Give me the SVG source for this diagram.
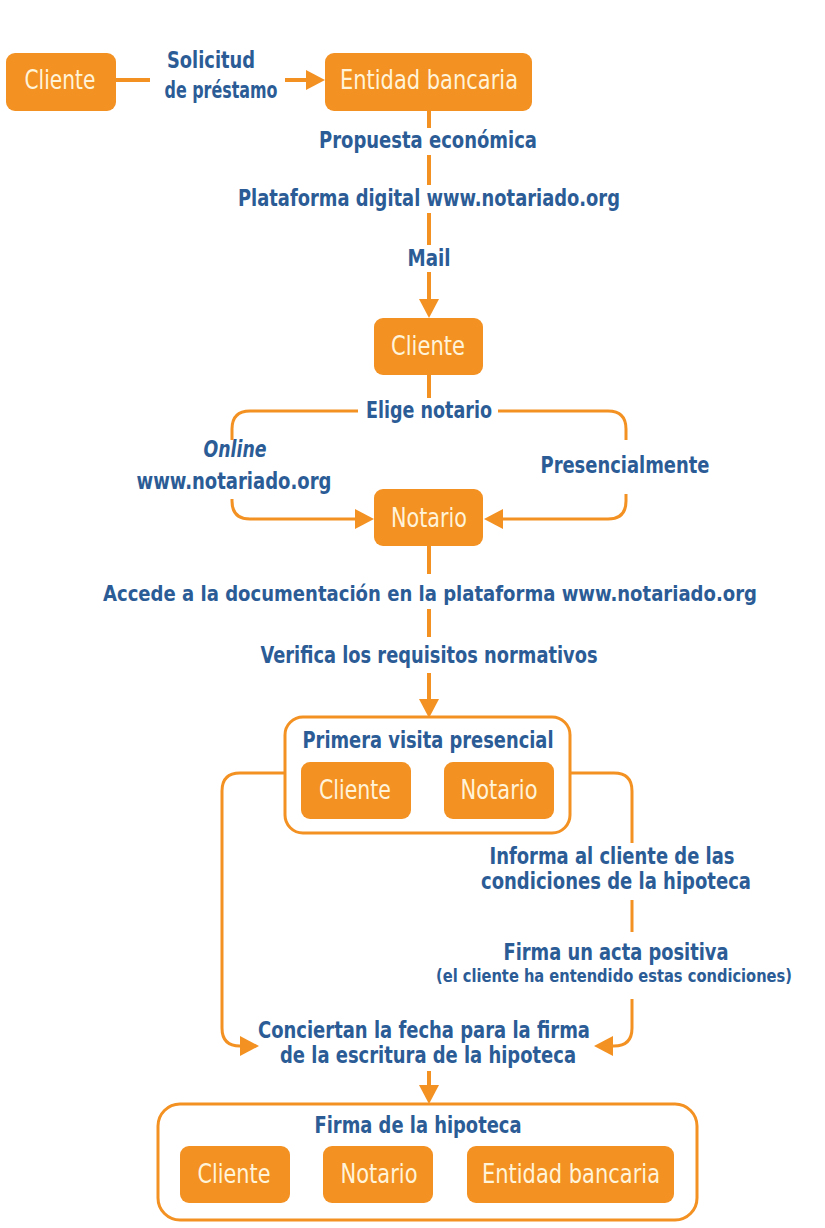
<svg xmlns="http://www.w3.org/2000/svg" width="825" height="1228" viewBox="0 0 825 1228">
<defs>
<style>
.box{fill:#F39122}
.frame{fill:#fff;stroke:#F39122;stroke-width:3}
.bt{font-family:"Liberation Sans Narrow","DejaVu Sans Condensed","Liberation Sans",sans-serif;font-stretch:condensed;font-size:26px;fill:#FFF4DA;text-anchor:middle}
.lb{font-family:"Liberation Sans Narrow","DejaVu Sans Condensed","Liberation Sans",sans-serif;font-stretch:condensed;font-weight:bold;font-size:23px;fill:#2B5C96;text-anchor:middle}
.sm{font-size:17px}
.it{font-style:italic}
.ln{fill:none;stroke:#F39122;stroke-width:4}
.br{fill:none;stroke:#F39122;stroke-width:3}
</style>
<marker id="ah" viewBox="0 0 20 20" refX="0" refY="10" markerWidth="20" markerHeight="20" markerUnits="userSpaceOnUse" orient="auto">
<path d="M0,0 L19,10 L0,20 z" fill="#F39122"/>
</marker>
</defs>
<rect width="825" height="1228" fill="#fff"/>

<g id="connectors">
<path class="ln" d="M116,80 H150"/>
<path class="ln" d="M285,80 H306" marker-end="url(#ah)"/>
<path class="ln" d="M429,111 V128"/>
<path class="ln" d="M429,155 V185"/>
<path class="ln" d="M429,213 V245"/>
<path class="ln" d="M429,272 V299" marker-end="url(#ah)"/>
<path class="ln" d="M429,375 V398"/>
<path class="br" d="M358,411 H250 Q232,411 232,429 V440"/>
<path class="br" d="M498,411 H608 Q626,411 626,429 V440"/>
<path class="br" d="M232,499 V501 Q232,519 250,519 H355" marker-end="url(#ah)"/>
<path class="br" d="M626,494 V501 Q626,519 608,519 H503" marker-end="url(#ah)"/>
<path class="ln" d="M429,546 V574"/>
<path class="ln" d="M429,609 V637"/>
<path class="ln" d="M429,673 V699" marker-end="url(#ah)"/>
<path class="br" d="M285,773 H240 Q222,773 222,791 V1028 Q222,1046 240,1046" marker-end="url(#ah)"/>
<path class="br" d="M570,773 H614 Q632,773 632,791 V843"/>
<path class="br" d="M632,900 V932"/>
<path class="br" d="M632,999 V1028 Q632,1046 614,1046 H613" marker-end="url(#ah)"/>
<path class="ln" d="M429,1071 V1085" marker-end="url(#ah)"/>
</g>

<g id="labels">
<text class="lb" x="211" y="68" textLength="88" lengthAdjust="spacingAndGlyphs">Solicitud</text>
<text class="lb" x="221" y="98" textLength="113" lengthAdjust="spacingAndGlyphs">de préstamo</text>
<text class="lb" x="428" y="148" textLength="218" lengthAdjust="spacingAndGlyphs">Propuesta económica</text>
<text class="lb" x="429" y="206" textLength="382" lengthAdjust="spacingAndGlyphs">Plataforma digital www.notariado.org</text>
<text class="lb" x="429" y="266" textLength="43" lengthAdjust="spacingAndGlyphs">Mail</text>
<text class="lb" x="429" y="418" textLength="126" lengthAdjust="spacingAndGlyphs">Elige notario</text>
<text class="lb it" x="235" y="457" textLength="63" lengthAdjust="spacingAndGlyphs">Online</text>
<text class="lb" x="234" y="489" textLength="195" lengthAdjust="spacingAndGlyphs">www.notariado.org</text>
<text class="lb" x="625" y="473" textLength="169" lengthAdjust="spacingAndGlyphs">Presencialmente</text>
<text class="lb" x="430" y="601" style="font-size:21px" textLength="654" lengthAdjust="spacingAndGlyphs">Accede a la documentación en la plataforma www.notariado.org</text>
<text class="lb" x="429" y="663" textLength="337" lengthAdjust="spacingAndGlyphs">Verifica los requisitos normativos</text>
<text class="lb" x="612" y="864" textLength="245" lengthAdjust="spacingAndGlyphs">Informa al cliente de las</text>
<text class="lb" x="616" y="889" textLength="270" lengthAdjust="spacingAndGlyphs">condiciones de la hipoteca</text>
<text class="lb" x="616" y="960" textLength="225" lengthAdjust="spacingAndGlyphs">Firma un acta positiva</text>
<text class="lb sm" x="614" y="982" textLength="356" lengthAdjust="spacingAndGlyphs">(el cliente ha entendido estas condiciones)</text>
<text class="lb" x="424" y="1038" textLength="332" lengthAdjust="spacingAndGlyphs">Conciertan la fecha para la firma</text>
<text class="lb" x="428" y="1063" textLength="296" lengthAdjust="spacingAndGlyphs">de la escritura de la hipoteca</text>
</g>

<g id="cliente1">
<rect class="box" x="6" y="53" width="110" height="58" rx="9"/>
<text class="bt" x="60" y="89" textLength="71" lengthAdjust="spacingAndGlyphs">Cliente</text>
</g>
<g id="entidad1">
<rect class="box" x="325" y="53" width="207" height="58" rx="9"/>
<text class="bt" x="429" y="89" textLength="178" lengthAdjust="spacingAndGlyphs">Entidad bancaria</text>
</g>
<g id="cliente2">
<rect class="box" x="374" y="318" width="109" height="57" rx="9"/>
<text class="bt" x="428" y="355" textLength="74" lengthAdjust="spacingAndGlyphs">Cliente</text>
</g>
<g id="notario1">
<rect class="box" x="374" y="489" width="109" height="57" rx="9"/>
<text class="bt" x="429" y="527" textLength="76" lengthAdjust="spacingAndGlyphs">Notario</text>
</g>

<g id="primera-visita">
<rect class="frame" x="285" y="717" width="285" height="116" rx="18"/>
<text class="lb" x="428" y="748" textLength="251" lengthAdjust="spacingAndGlyphs">Primera visita presencial</text>
<g id="cliente3">
<rect class="box" x="301" y="762" width="110" height="57" rx="9"/>
<text class="bt" x="355" y="799" textLength="72" lengthAdjust="spacingAndGlyphs">Cliente</text>
</g>
<g id="notario2">
<rect class="box" x="444" y="762" width="110" height="57" rx="9"/>
<text class="bt" x="499" y="799" textLength="77" lengthAdjust="spacingAndGlyphs">Notario</text>
</g>
</g>

<g id="firma-hipoteca">
<rect class="frame" x="158" y="1104" width="539" height="116" rx="22"/>
<text class="lb" x="418" y="1133" textLength="207" lengthAdjust="spacingAndGlyphs">Firma de la hipoteca</text>
<g id="cliente4">
<rect class="box" x="180" y="1146" width="110" height="57" rx="9"/>
<text class="bt" x="234" y="1183" textLength="73" lengthAdjust="spacingAndGlyphs">Cliente</text>
</g>
<g id="notario3">
<rect class="box" x="323" y="1146" width="110" height="57" rx="9"/>
<text class="bt" x="379" y="1183" textLength="77" lengthAdjust="spacingAndGlyphs">Notario</text>
</g>
<g id="entidad2">
<rect class="box" x="467" y="1146" width="207" height="57" rx="9"/>
<text class="bt" x="571" y="1183" textLength="178" lengthAdjust="spacingAndGlyphs">Entidad bancaria</text>
</g>
</g>
</svg>
